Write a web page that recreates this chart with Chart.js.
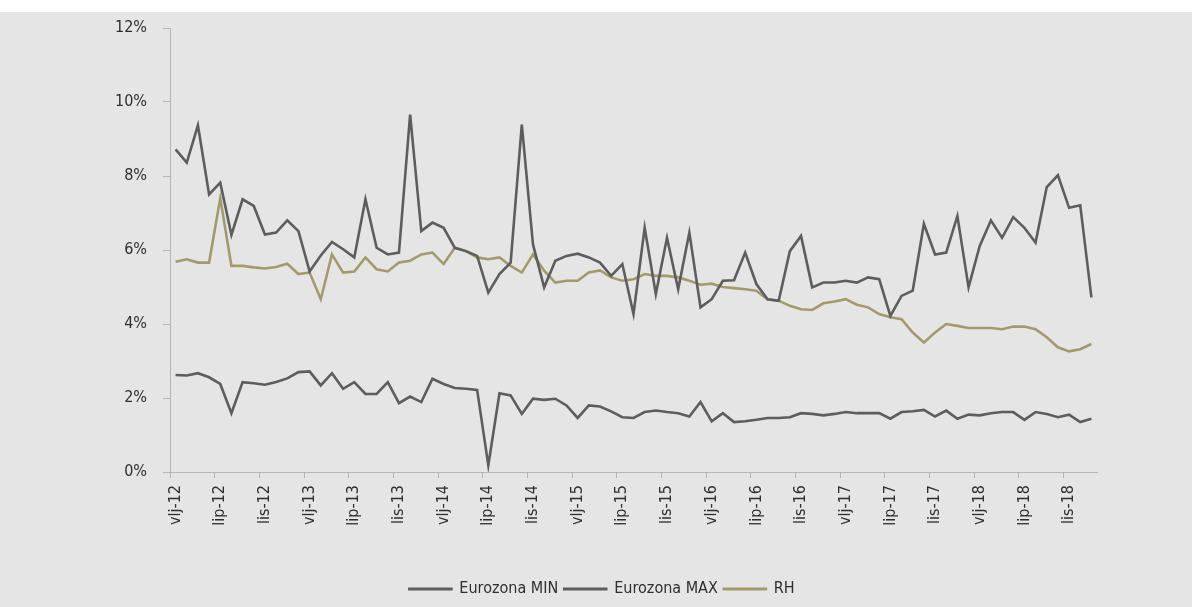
<!DOCTYPE html>
<html>
<head>
<meta charset="utf-8">
<script src="https://cdn.jsdelivr.net/npm/chart.js@4"></script>
<style>
    body { margin: 0; background: #ffffff; }
    #okvir { position: absolute; left: 0; top: 12px; width: 1192px; height: 595px; background: #e5e5e5; }
</style>
</head>
<body>
<div id="okvir"><canvas id="grafKamate" width="1192" height="595"></canvas></div>
<script>
// mjeseci vlj-12 do pro-18
var naziviMjeseci = ['sij', 'vlj', 'ožu', 'tra', 'svi', 'lip', 'srp', 'kol', 'ruj', 'lis', 'stu', 'pro'];
var godine = ['12', '13', '14', '15', '16', '17', '18'];

var eurozonaMin = [2.62, 2.61, 2.67, 2.56, 2.38, 1.59, 2.43, 2.40, 2.36, 2.43, 2.53, 2.70,
    2.72, 2.34, 2.67, 2.25, 2.43, 2.11, 2.11, 2.43, 1.86, 2.04, 1.89, 2.52,
    2.38, 2.27, 2.25, 2.22, 0.18, 2.13, 2.07, 1.57, 1.98, 1.95, 1.98, 1.80,
    1.46, 1.80, 1.77, 1.64, 1.48, 1.46, 1.62, 1.66, 1.62, 1.59, 1.50, 1.89,
    1.37, 1.59, 1.35, 1.37, 1.41, 1.46, 1.46, 1.48, 1.59, 1.57, 1.53, 1.57,
    1.62, 1.59, 1.59, 1.59, 1.44, 1.62, 1.64, 1.68, 1.50, 1.66, 1.44, 1.55,
    1.53, 1.59, 1.62, 1.62, 1.41, 1.62, 1.57, 1.48, 1.55, 1.35, 1.44];

var eurozonaMax = [8.72, 8.36, 9.37, 7.50, 7.82, 6.41, 7.37, 7.19, 6.42, 6.47, 6.80, 6.51,
    5.42, 5.85, 6.22, 6.02, 5.80, 7.37, 6.06, 5.88, 5.93, 9.66, 6.51, 6.74,
    6.60, 6.06, 5.97, 5.84, 4.85, 5.35, 5.66, 9.39, 6.15, 4.99, 5.71, 5.84,
    5.90, 5.80, 5.66, 5.30, 5.62, 4.27, 6.60, 4.81, 6.33, 4.94, 6.47, 4.45,
    4.67, 5.17, 5.18, 5.93, 5.08, 4.67, 4.63, 5.97, 6.38, 4.99, 5.12, 5.12,
    5.17, 5.12, 5.26, 5.21, 4.22, 4.76, 4.90, 6.71, 5.88, 5.93, 6.92, 4.99,
    6.11, 6.80, 6.33, 6.89, 6.60, 6.20, 7.70, 8.02, 7.14, 7.21, 4.72];

var rh = [5.68, 5.75, 5.66, 5.66, 7.40, 5.57, 5.57, 5.53, 5.50, 5.54, 5.63, 5.35,
    5.39, 4.67, 5.88, 5.39, 5.42, 5.80, 5.48, 5.42, 5.66, 5.71, 5.88, 5.93,
    5.62, 6.06, 5.97, 5.80, 5.75, 5.80, 5.57, 5.39, 5.88, 5.44, 5.12, 5.17,
    5.17, 5.39, 5.45, 5.26, 5.17, 5.21, 5.35, 5.30, 5.30, 5.26, 5.17, 5.06,
    5.09, 5.00, 4.97, 4.94, 4.90, 4.67, 4.63, 4.49, 4.40, 4.38, 4.56, 4.61,
    4.67, 4.52, 4.45, 4.27, 4.18, 4.13, 3.77, 3.50, 3.77, 4.00, 3.95, 3.89,
    3.89, 3.89, 3.86, 3.93, 3.93, 3.86, 3.64, 3.37, 3.26, 3.32, 3.46];

var yTicks = [0, 2, 4, 6, 8, 10, 12];

function NapraviMjesece() {
    var labels = [];
    for (var g = 0; g < godine.length; g++) {
        for (var m = 0; m < 12; m++) {
            if (g === 0 && m < 1) continue;
            labels.push(naziviMjeseci[m] + '-' + godine[g]);
        }
    }
    return labels;
}

var mjeseci = NapraviMjesece();
var font = "'Liberation Sans Narrow', 'DejaVu Sans Condensed', 'Noto Sans', sans-serif";
var sivaLinija = '#5d5d5d';
var rhBoja = '#a39a6c';

new Chart(document.getElementById('grafKamate'), {
    type: 'line',
    data: {
        labels: mjeseci,
        datasets: [
            { label: 'Eurozona MIN', data: eurozonaMin, borderColor: sivaLinija, backgroundColor: sivaLinija },
            { label: 'Eurozona MAX', data: eurozonaMax, borderColor: sivaLinija, backgroundColor: sivaLinija },
            { label: 'RH', data: rh, borderColor: rhBoja, backgroundColor: rhBoja }
        ]
    },
    options: {
        responsive: false,
        animation: false,
        layout: { padding: { left: 12, right: 0, top: 0, bottom: 0 } },
        elements: {
            point: { radius: 0 },
            line: { borderWidth: 2.6, tension: 0 }
        },
        plugins: {
            tooltip: { enabled: false },
            legend: {
                position: 'bottom',
                labels: {
                    boxWidth: 42,
                    boxHeight: 0.5,
                    padding: 6,
                    color: '#2e2e2e',
                    font: { family: font, size: 16 }
                }
            }
        },
        scales: {
            x: {
                offset: true,
                grid: {
                    offset: true,
                    drawOnChartArea: false,
                    tickLength: 6,
                    tickColor: function (ctx) { return ctx.index % 4 === 0 ? '#b5b5b5' : 'rgba(0,0,0,0)'; }
                },
                border: { color: '#b5b5b5', width: 1 },
                ticks: {
                    autoSkip: false,
                    minRotation: 90,
                    maxRotation: 90,
                    padding: 7,
                    color: '#2e2e2e',
                    font: { family: font, size: 16 },
                    callback: function (v, i) { return i % 4 === 0 ? mjeseci[i] : ''; }
                },
                afterFit: function (axis) { axis.height = 103; }
            },
            y: {
                min: 0,
                max: 12,
                grid: { drawOnChartArea: false, tickLength: 7, color: '#b5b5b5' },
                border: { color: '#b5b5b5', width: 1 },
                afterBuildTicks: function (axis) { axis.ticks = yTicks.map(function (v) { return { value: v }; }); },
                ticks: {
                    padding: 16,
                    color: '#2e2e2e',
                    font: { family: font, size: 16 },
                    callback: function (v) { return v + '%'; }
                },
                afterFit: function (axis) {
                    axis.width = 158;
                    axis.paddingTop = 16;
                    axis.paddingBottom = 10;
                }
            },
            desno: {
                position: 'right',
                grid: { display: false },
                border: { display: false },
                ticks: { display: false },
                afterFit: function (axis) { axis.width = 95; }
            }
        }
    }
});
</script>
</body>
</html>
